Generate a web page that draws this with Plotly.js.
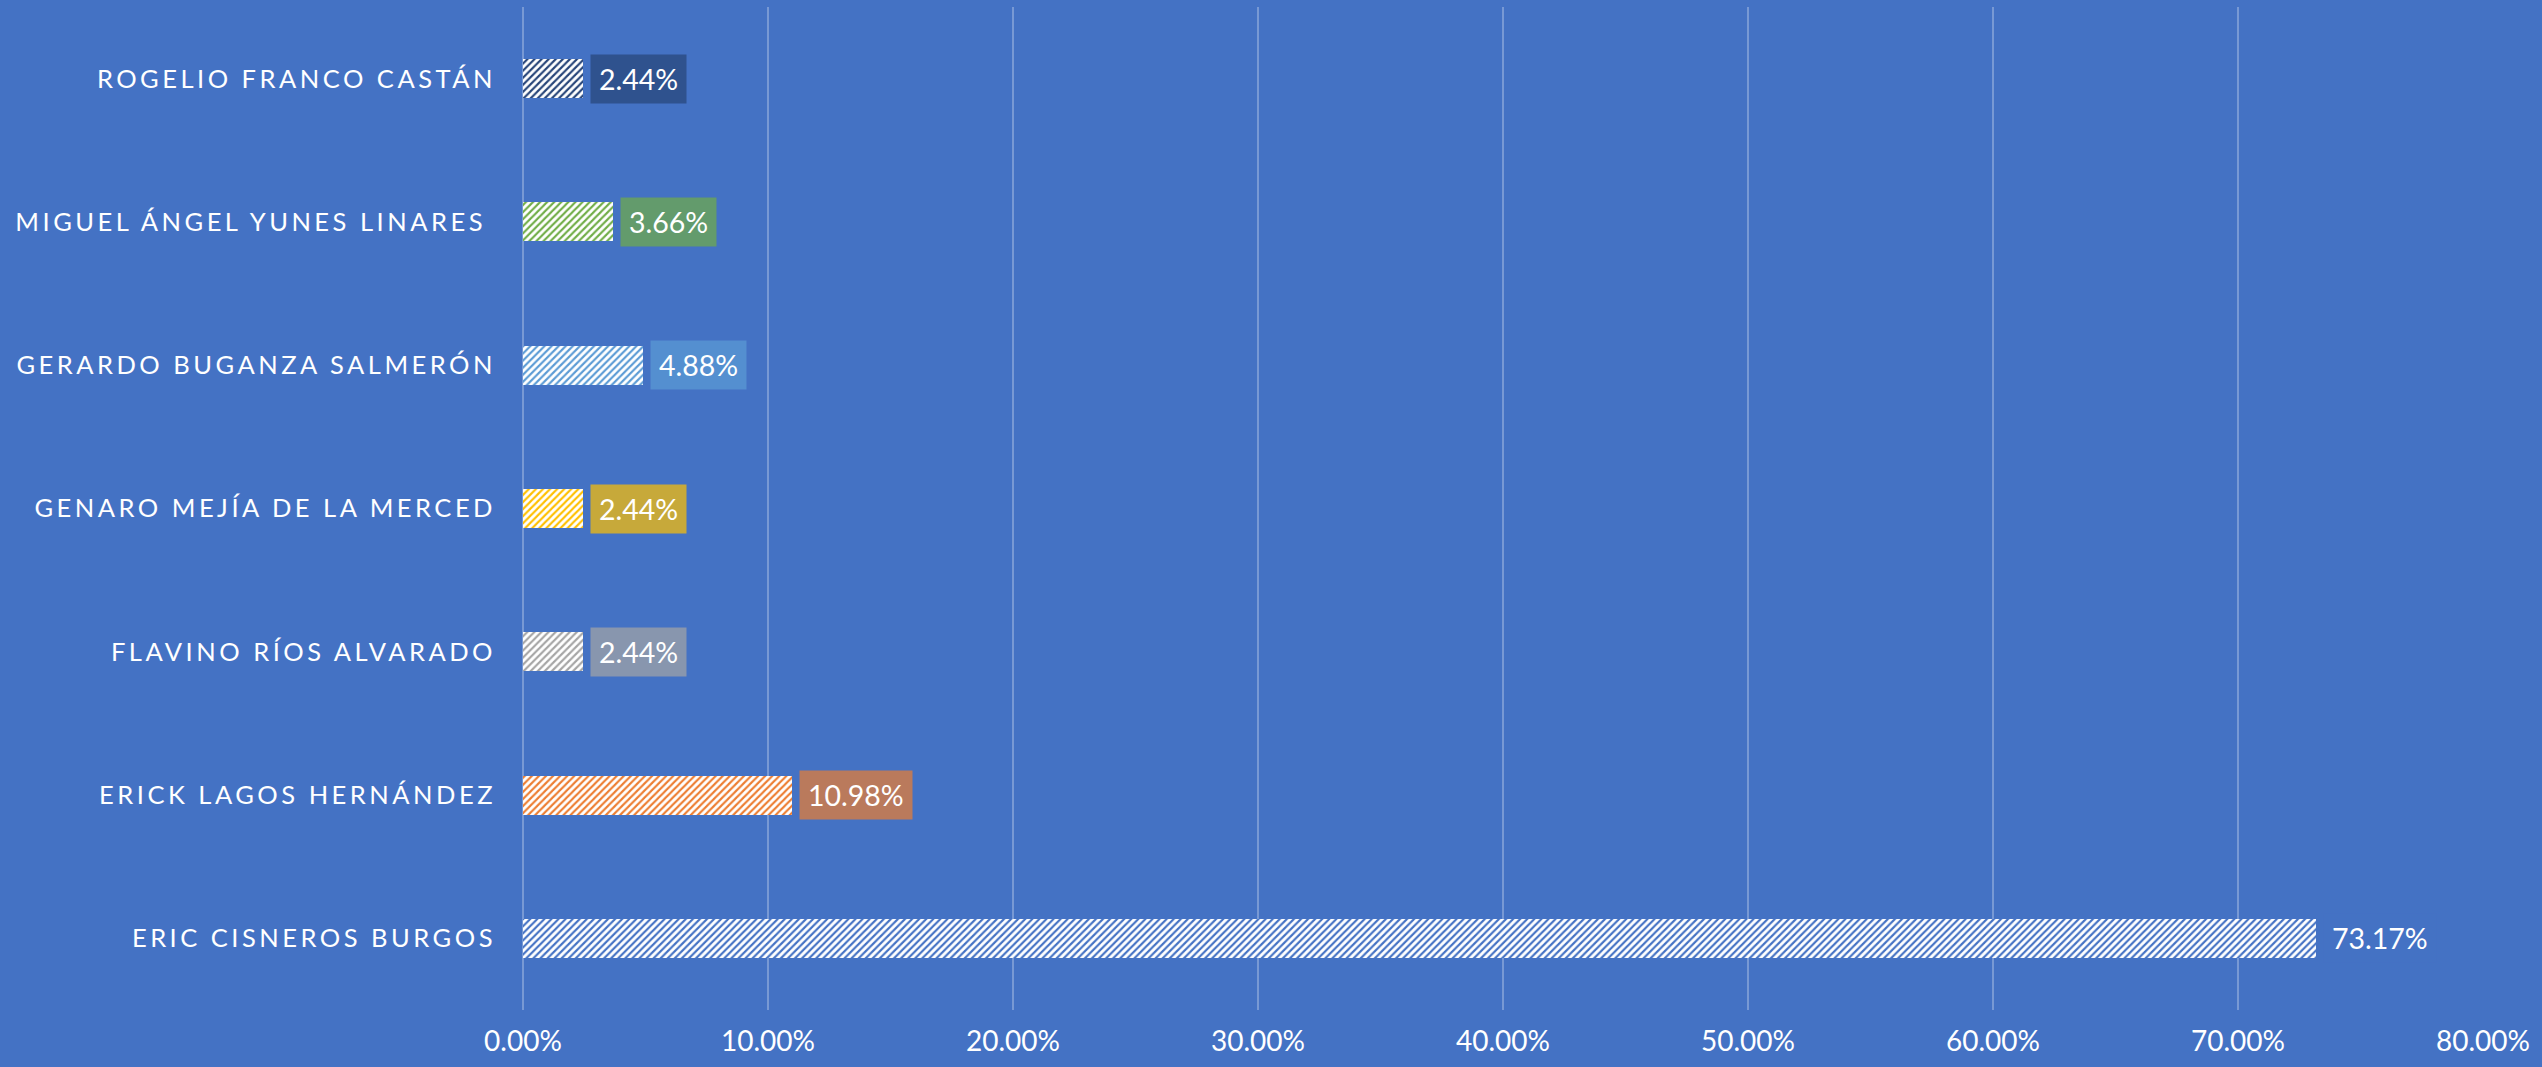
<!DOCTYPE html>
<html>
<head>
<meta charset="utf-8">
<script src="https://cdn.plot.ly/plotly-3.0.1.min.js"></script>
<style>
  html, body { margin: 0; padding: 0; background: #4472C4; }
  #chart { width: 2542px; height: 1067px; }
  .ytick text { letter-spacing: 3.5px; }
</style>
</head>
<body>
<div id="chart"></div>
<script>
// Categories listed bottom to top (Plotly draws the first category at the bottom)
const categories = [
  "ERIC CISNEROS BURGOS",
  "ERICK LAGOS HERNÁNDEZ",
  "FLAVINO RÍOS ALVARADO",
  "GENARO MEJÍA DE LA MERCED",
  "GERARDO BUGANZA SALMERÓN",
  "MIGUEL ÁNGEL YUNES LINARES\u00a0",
  "ROGELIO FRANCO CASTÁN"
];
const percentValues = [73.17, 10.98, 2.44, 2.44, 4.88, 3.66, 2.44];
const xTickValues = [0, 10, 20, 30, 40, 50, 60, 70, 80];

// Styles
const barColors = ["#4472C4", "#ED7D31", "#A5A5A5", "#FFC000", "#5B9BD5", "#70AD47", "#264478"];
const labelBoxColors = [
  "rgba(68,114,196,0.7)", "rgba(237,125,49,0.7)", "rgba(165,165,165,0.7)",
  "rgba(255,192,0,0.7)", "rgba(91,155,213,0.7)", "rgba(112,173,71,0.7)", "rgba(38,68,120,0.7)"
];
const FONT = "Lato, 'Open Sans', sans-serif";

const trace = {
  type: "bar",
  orientation: "h",
  y: categories,
  x: percentValues,
  width: 0.272,
  hoverinfo: "skip",
  marker: {
    color: "#FFFFFF",
    line: { width: 0 },
    pattern: {
      shape: "/",
      fillmode: "replace",
      bgcolor: "#FFFFFF",
      fgcolor: barColors,
      fgopacity: 1,
      size: 5,
      solidity: 0.42
    }
  }
};

const annotations = categories.map((c, i) => ({
  x: percentValues[i],
  y: c,
  xref: "x",
  yref: "y",
  xanchor: "left",
  yanchor: "middle",
  xshift: 7,
  text: percentValues[i].toFixed(2) + "%",
  showarrow: false,
  bgcolor: labelBoxColors[i],
  borderpad: 8,
  height: 32,
  font: { family: FONT, size: 28.5, color: "#FFFFFF" }
}));

const layout = {
  width: 2542,
  height: 1067,
  paper_bgcolor: "#4472C4",
  plot_bgcolor: "#4472C4",
  margin: { l: 523, r: 59, t: 7, b: 57 },
  showlegend: false,
  bargap: 0,
  xaxis: {
    range: [0, 80],
    tickvals: xTickValues,
    ticktext: xTickValues.map(v => v.toFixed(2) + "%"),
    showgrid: true,
    gridcolor: "rgba(255,255,255,0.28)",
    gridwidth: 2,
    zeroline: true,
    zerolinecolor: "rgba(255,255,255,0.28)",
    zerolinewidth: 2,
    showline: false,
    ticks: "",
    ticklabelstandoff: 12,
    tickfont: { family: FONT, size: 28, color: "#FFFFFF" },
    fixedrange: true
  },
  yaxis: {
    type: "category",
    categoryorder: "array",
    categoryarray: categories,
    showgrid: false,
    zeroline: false,
    showline: false,
    ticks: "",
    ticklabelstandoff: 26,
    tickfont: { family: FONT, size: 25.5, color: "#FFFFFF" },
    fixedrange: true
  },
  annotations: annotations
};

Plotly.newPlot("chart", [trace], layout, { displayModeBar: false, staticPlot: true });
</script>
</body>
</html>
